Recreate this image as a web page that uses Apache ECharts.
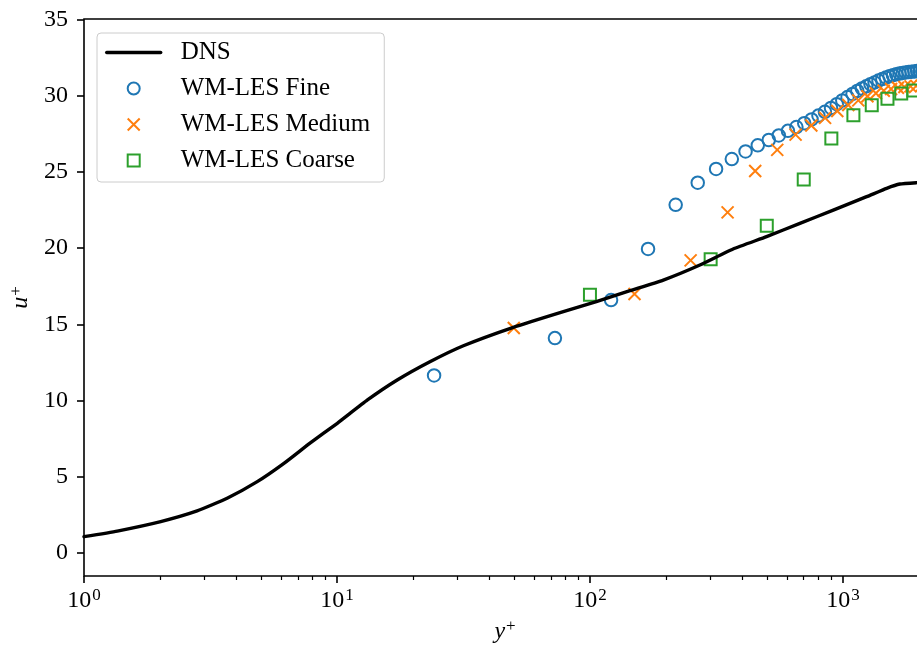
<!DOCTYPE html>
<html><head><meta charset="utf-8">
<script src="https://cdn.jsdelivr.net/npm/echarts@6/dist/echarts.min.js"></script>
<style>html,body{margin:0;padding:0;background:#fff}#c{width:917px;height:647px}</style>
</head><body><div id="c"></div>
<script>
const dnsX = [1, 1.354, 2.01, 2.8, 3.68, 4.84, 6.17, 7.87, 10.03, 13.2, 17.3, 23.3, 31.6, 49.8, 78.5, 106, 144, 195, 272, 368, 499, 676, 916, 1241, 1489, 1679, 1955, 2130];
const dnsY = [1.07, 1.44, 2.06, 2.76, 3.59, 4.68, 5.88, 7.24, 8.51, 10.04, 11.35, 12.55, 13.6, 14.81, 15.84, 16.49, 17.21, 17.91, 18.9, 19.95, 20.76, 21.63, 22.5, 23.38, 23.93, 24.21, 24.3, 24.32];

const fineX = [24.2, 72.7, 121.2, 169.7, 218.2, 266.7, 315.2, 363.7, 412.2, 460.7, 509.2, 557.7, 606.2, 654.7, 703.2, 751.7, 800.2, 848.7, 897.2, 945.7, 994.2, 1042.7, 1091.2, 1139.7, 1188.2, 1236.7, 1285.2, 1333.7, 1382.2, 1430.7, 1479.2, 1527.7, 1576.2, 1624.7, 1673.2, 1721.7, 1770.2, 1818.7, 1867.2, 1915.7, 1964.2, 2012.7, 2061.2];
const fineY = [11.65, 14.1, 16.6, 19.95, 22.85, 24.3, 25.2, 25.85, 26.35, 26.75, 27.1, 27.4, 27.7, 27.95, 28.2, 28.45, 28.7, 28.95, 29.2, 29.45, 29.7, 29.92, 30.12, 30.32, 30.48, 30.62, 30.76, 30.88, 31.0, 31.1, 31.2, 31.28, 31.35, 31.41, 31.46, 31.5, 31.53, 31.56, 31.58, 31.6, 31.62, 31.63, 31.64];

const mediumX = [50, 150, 250, 350, 450, 550, 650, 750, 850, 950, 1050, 1150, 1250, 1350, 1450, 1550, 1650, 1750, 1850, 1950, 2050];
const mediumY = [14.76, 17.0, 19.2, 22.35, 25.07, 26.45, 27.45, 28.05, 28.55, 29.0, 29.4, 29.7, 29.97, 30.17, 30.33, 30.45, 30.53, 30.58, 30.62, 30.65, 30.67];

const coarseX = [100, 300, 500, 700, 900, 1100, 1300, 1500, 1700, 1900, 2100];
const coarseY = [16.95, 19.28, 21.48, 24.5, 27.2, 28.72, 29.38, 29.8, 30.15, 30.35, 30.45];

const seriesNames = ['DNS', 'WM-LES Fine', 'WM-LES Medium', 'WM-LES Coarse'];
const xMajorTicks = [1, 10, 100, 1000];
const xMinorTicks = [2, 3, 4, 5, 6, 7, 8, 9, 20, 30, 40, 50, 60, 70, 80, 90, 200, 300, 400, 500, 600, 700, 800, 900, 2000];
const yTicks = [0, 5, 10, 15, 20, 25, 30, 35];
const xTitle = ['y', '+'];
const yTitle = ['u', '+'];

const FONT = 'Liberation Serif';
const FS = 24;
const zip = (xs, ys) => xs.map((x, i) => [x, ys[i]]);
const rich = {
  b: {fontFamily: FONT, fontSize: FS, color: '#000'},
  i: {fontFamily: FONT, fontSize: FS, fontStyle: 'italic', color: '#000'},
  s: {fontFamily: FONT, fontSize: 17, color: '#000', padding: [0, 0, 10, 1]}
};

const chart = echarts.init(document.getElementById('c'), null, {renderer: 'canvas'});
chart.setOption({
  animation: false,
  backgroundColor: '#fff',
  grid: {left: 84, top: 19, right: -9, bottom: 71, show: true, borderColor: '#000', borderWidth: 1.6,
         backgroundColor: 'transparent', containLabel: false, outerBoundsMode: 'none'},
  legend: {
    show: true, orient: 'vertical', left: 97, top: 33,
    padding: [7, 14, 9, 8], itemGap: 11, itemWidth: 54, itemHeight: 12, symbolKeepAspect: true,
    backgroundColor: 'rgba(255,255,255,0.8)', borderColor: '#cccccc', borderWidth: 1, borderRadius: 4,
    textStyle: {fontFamily: FONT, fontSize: 25, color: '#000', padding: [0, 0, 0, 15], lineHeight: 25},
    data: [{name: seriesNames[0], itemStyle: {opacity: 0}, lineStyle: {color: '#000', width: 3.4}},
           seriesNames[1], seriesNames[2], seriesNames[3]],
    selectedMode: false
  },
  xAxis: [
    {
      type: 'log', logBase: 10, min: 1, max: 2130, position: 'bottom',
      axisLine: {show: false, onZero: false}, splitLine: {show: false}, minorTick: {show: false},
      axisTick: {show: true, length: 7, lineStyle: {color: '#000', width: 1.6}, customValues: xMajorTicks},
      axisLabel: {customValues: xMajorTicks, margin: 11,
        formatter: v => '{b|10}{s|' + Math.round(Math.log10(v)) + '}', rich: rich},
      name: '{i|' + xTitle[0] + '}{s|' + xTitle[1] + '}', nameLocation: 'middle', nameGap: 42,
      nameTextStyle: {rich: rich}
    },
    {
      type: 'log', logBase: 10, min: 1, max: 2130, position: 'bottom',
      axisLine: {show: false, onZero: false}, splitLine: {show: false}, minorTick: {show: false},
      axisTick: {show: true, length: 4, lineStyle: {color: '#000', width: 1.2}, customValues: xMinorTicks},
      axisLabel: {show: false}
    }
  ],
  yAxis: {
    type: 'value', min: -1.51, max: 35.04,
    axisLine: {show: false, onZero: false}, splitLine: {show: false},
    axisTick: {show: true, length: 7, lineStyle: {color: '#000', width: 1.6}, customValues: yTicks},
    axisLabel: {customValues: yTicks, margin: 16, fontFamily: FONT, fontSize: FS, color: '#000'},
    name: '{i|' + yTitle[0] + '}{s|' + yTitle[1] + '}', nameLocation: 'middle', nameRotate: 90, nameGap: 42,
    nameTextStyle: {rich: rich}
  },
  series: [
    {name: seriesNames[0], type: 'line', xAxisIndex: 0, data: zip(dnsX, dnsY), showSymbol: false, symbol: 'none',
     smooth: 0.15, lineStyle: {color: '#000', width: 3.4, join: 'round', cap: 'round'}, itemStyle: {color: '#000'}},
    {name: seriesNames[1], type: 'scatter', xAxisIndex: 0, data: zip(fineX, fineY), symbol: 'circle', symbolSize: 12.5,
     itemStyle: {color: 'rgba(0,0,0,0)', borderColor: '#1f77b4', borderWidth: 2, opacity: 1}},
    {name: seriesNames[2], type: 'scatter', xAxisIndex: 0, data: zip(mediumX, mediumY), symbol: 'path://M0,0L10,10M10,0L0,10', symbolSize: 12,
     symbolKeepAspect: true,
     itemStyle: {color: 'rgba(0,0,0,0)', borderColor: '#ff7f0e', borderWidth: 2, opacity: 1}},
    {name: seriesNames[3], type: 'scatter', xAxisIndex: 0, data: zip(coarseX, coarseY), symbol: 'path://M0,0L10,0L10,10L0,10Z', symbolSize: 12,
     symbolKeepAspect: true,
     itemStyle: {color: 'rgba(0,0,0,0)', borderColor: '#2ca02c', borderWidth: 2, opacity: 1}}
  ]
});
</script></body></html>
